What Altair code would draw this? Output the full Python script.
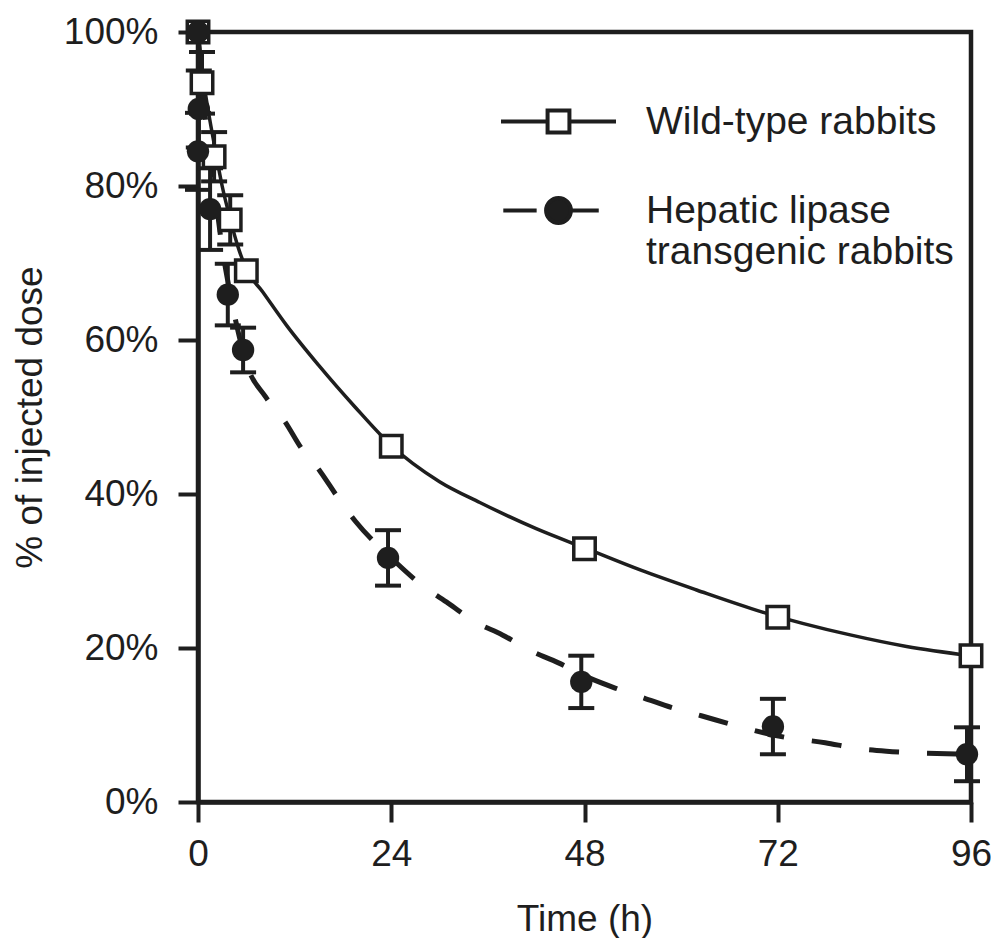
import altair as alt
import pandas as pd

INK = "#1e1e1e"
FONT = "Liberation Sans"

# ---- data ----
wt_name = "Wild-type rabbits"
hl_name = "Hepatic lipase transgenic rabbits"

wt_t = [0, 0.5, 2, 4, 6, 24, 48, 72, 96]
wt_val = [100, 93.4, 83.8, 75.6, 69.0, 46.2, 32.9, 24.0, 19.0]
wt_err = [0, 4.0, 3.2, 3.2, 0, 0, 0, 0, 0]

hl_t = [0, 0.1, 0, 1.5, 3.7, 5.6, 23.6, 47.6, 71.4, 95.5]
hl_val = [100, 90.0, 84.5, 77.0, 65.9, 58.7, 31.7, 15.6, 9.8, 6.2]
hl_err = [0, 5.0, 5.0, 5.3, 4.0, 2.9, 3.6, 3.4, 3.6, 3.5]

# fitted curves
wt_fit_t = [0, 0.5, 1, 2, 3, 4, 5, 6, 8, 11, 15, 19.5, 24, 30, 35, 42, 48, 55, 62, 70, 81, 88, 96]
wt_fit = [100, 95, 91.5, 85.5, 80, 75.7, 72, 69.2, 66.3, 61.9, 56.7, 51.3, 46.3, 41.6,
          38.9, 35.5, 33.0, 30.1, 27.5, 24.7, 21.7, 20.2, 19.0]

hl_fit_t = [0, 0.5, 1, 2, 3, 4, 5, 6, 8.4, 10.8, 12.8, 15.2, 17.4, 19.6, 24, 28, 31.1, 34.4,
            37.8, 41.4, 44.7, 48.4, 51.8, 55.4, 59, 62.5, 66.5, 72.9, 77.9, 81.6, 85.5, 89.2, 96]
hl_fit = [100, 93, 88, 80, 72, 66, 61, 57, 52.6, 49.4, 46.0, 42.9, 39.5, 36.4, 31.7, 28.0, 25.8,
          23.4, 21.7, 19.6, 18.1, 16.2, 14.8, 13.5, 12.2, 11.2, 10.0, 8.4, 7.7, 7.0, 6.6, 6.4, 6.2]

x_ticks = [0, 24, 48, 72, 96]
y_ticks = [0, 20, 40, 60, 80, 100]

# ---- tables ----
wt_df = pd.DataFrame({"t": wt_t, "v": wt_val, "e": wt_err, "series": wt_name})
hl_df = pd.DataFrame({"t": hl_t, "v": hl_val, "e": hl_err, "series": hl_name})
pts = pd.concat([wt_df, hl_df], ignore_index=True)
err = pts[pts["e"] > 0].copy()
err["lo"] = err["v"] - err["e"]
err["hi"] = err["v"] + err["e"]
caps = pd.concat([
    pd.DataFrame({"t": err["t"], "c": err["lo"]}),
    pd.DataFrame({"t": err["t"], "c": err["hi"]}),
], ignore_index=True)

wt_line = pd.DataFrame({"t": wt_fit_t, "v": wt_fit})
hl_line = pd.DataFrame({"t": hl_fit_t, "v": hl_fit})

xs = alt.Scale(domain=[0, 96], nice=False, zero=False)
ys = alt.Scale(domain=[0, 100], nice=False)

xaxis = alt.Axis(values=x_ticks, labelPadding=14, titleY=128, titleBaseline="alphabetic",
                 labelFlush=False, labelOverlap=False)
yaxis = alt.Axis(values=y_ticks, labelExpr="datum.value + '%'", labelPadding=20,
                 titleX=-168, titleY=385, titleAngle=270, titleBaseline="middle",
                 titleAlign="center", labelFlush=False, labelOverlap=False)


def X(f):
    return alt.X(f"{f}:Q", scale=xs, axis=xaxis, title="Time (h)")


def Y(f):
    return alt.Y(f"{f}:Q", scale=ys, axis=yaxis, title="% of injected dose")


line_wt = alt.Chart(wt_line).mark_line(interpolate="monotone", color=INK, strokeWidth=3.5).encode(
    x=X("t"), y=Y("v"))
line_hl = alt.Chart(hl_line).mark_line(interpolate="monotone", color=INK, strokeWidth=5,
                                        strokeDash=[30, 28]).encode(x=X("t"), y=Y("v"))

rules = alt.Chart(err).mark_rule(color=INK, strokeWidth=4).encode(
    x=X("t"), y=Y("lo"), y2=alt.Y2("hi:Q"))
cap_marks = alt.Chart(caps).mark_tick(orient="horizontal", size=26, thickness=4, color=INK,
                                      opacity=1).encode(x=X("t"), y=Y("c"))

sq = alt.Chart(wt_df).mark_point(shape="square", filled=True, fill="white", stroke=INK,
                                 strokeWidth=3.5, size=460, opacity=1).encode(x=X("t"), y=Y("v"))
dots = alt.Chart(hl_df).mark_point(shape="circle", filled=True, fill=INK, size=500,
                                   opacity=1).encode(x=X("t"), y=Y("v"))

# legend symbols: line + marker drawn as custom paths (unit = 11.5 px)
path_wt = "M-5,0H-0.95M0.95,0H5M-0.95,-0.95H0.95V0.95H-0.95Z"
path_hl = ("M-4.8,0H-1.9M1.05,0H3.5"
           "M1.08,0A1.08,1.08 0 1,1 -1.08,0A1.08,1.08 0 1,1 1.08,0Z")

dom = [wt_name, hl_name]
legend_layer = alt.Chart(pts).transform_filter("false").mark_point(
    filled=True, strokeWidth=4, opacity=1, size=529
).encode(
    x=X("t"), y=Y("v"),
    shape=alt.Shape("series:N", scale=alt.Scale(domain=dom, range=[path_wt, path_hl]),
                    legend=alt.Legend(title=None, orient="none", legendX=341, legendY=70,
                                      labelExpr=f"datum.label == '{hl_name}' ? ['Hepatic lipase', 'transgenic rabbits'] : datum.label",
                                      labelFontSize=39, labelFont=FONT, labelColor=INK,
                                      labelOffset=68, labelBaseline="middle",
                                      rowPadding=48, symbolSize=529, symbolStrokeWidth=4,
                                      symbolStrokeColor=INK, padding=0, labelLimit=600)),
    fill=alt.Fill("series:N", scale=alt.Scale(domain=dom, range=["white", INK])),
    stroke=alt.Stroke("series:N", scale=alt.Scale(domain=dom, range=[INK, INK])),
)

chart = alt.layer(line_wt, line_hl, rules, cap_marks, sq, dots, legend_layer).properties(
    width=773, height=770,
    autosize=alt.AutoSizeParams(type="none"),
    padding={"left": 190, "top": 24, "right": 20, "bottom": 136},
    background="white",
).configure_view(stroke=INK, strokeWidth=4.5).configure_axis(
    labelFont=FONT, titleFont=FONT, labelFontSize=37, titleFontSize=37,
    labelColor=INK, titleColor=INK, titleFontWeight="normal",
    domainColor=INK, domainWidth=4.5, tickColor=INK, tickWidth=4, tickSize=20, grid=False,
)

chart.save("out.html", embed_options={"renderer": "svg", "actions": False})
